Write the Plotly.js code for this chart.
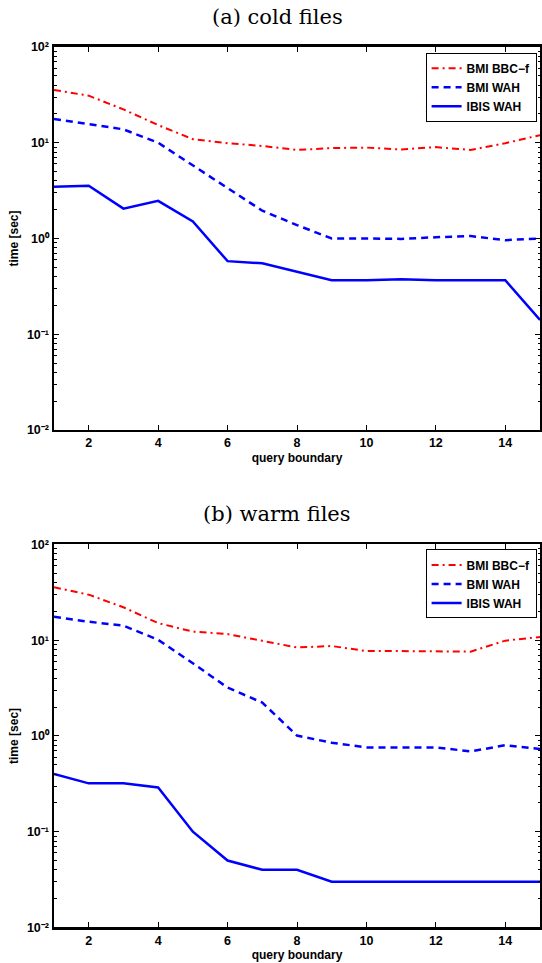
<!DOCTYPE html>
<html>
<head>
<meta charset="utf-8">
<script src="https://cdn.plot.ly/plotly-3.0.1.min.js"></script>
<style>
  html, body { margin: 0; padding: 0; background: #fff; }
  #chart { width: 542px; height: 963px; }
</style>
</head>
<body>
<div id="chart"></div>
<script>
// ---- data ----
const queryBoundary = [1, 2, 3, 4, 5, 6, 7, 8, 9, 10, 11, 12, 13, 14, 15];

const coldBmiBbcF = [35.6, 31, 22.3, 15.3, 10.9, 9.9, 9.25, 8.4, 8.8, 8.9, 8.5, 9.0, 8.4, 9.9, 12.0];
const coldBmiWah  = [17.7, 15.7, 13.8, 10.0, 5.76, 3.34, 1.95, 1.38, 1.0, 1.0, 0.99, 1.03, 1.06, 0.96, 1.0];
const coldIbisWah = [3.47, 3.56, 2.05, 2.47, 1.51, 0.58, 0.55, 0.45, 0.366, 0.366, 0.375, 0.366, 0.366, 0.366, 0.141];

const warmBmiBbcF = [35.7, 29.9, 22.1, 15.1, 12.3, 11.6, 9.86, 8.4, 8.7, 7.7, 7.7, 7.6, 7.6, 9.9, 10.8];
const warmBmiWah  = [17.6, 15.6, 14.2, 10.1, 5.75, 3.2, 2.23, 1.01, 0.85, 0.76, 0.76, 0.76, 0.69, 0.80, 0.73];
const warmIbisWah = [0.40, 0.32, 0.32, 0.29, 0.10, 0.05, 0.04, 0.04, 0.03, 0.03, 0.03, 0.03, 0.03, 0.03, 0.03];

const seriesNames = ['BMI BBC\u2212f', 'BMI WAH', 'IBIS WAH'];
const panelTitles = ['(a) cold files', '(b) warm files'];
const yTickVals = [0.01, 0.1, 1, 10, 100];
const yTickText = ['10\u207B\u00B2', '10\u207B\u00B9', '10\u2070', '10\u00B9', '10\u00B2'];
const xTickVals = [2, 4, 6, 8, 10, 12, 14];
const xAxisTitle = 'query boundary';
const yAxisTitle = 'time [sec]';

// ---- styling ----
const sansBold = { family: 'Liberation Sans, Arial, Helvetica, sans-serif', size: 12, color: '#000', weight: 'bold' };
const tickBold = { family: 'Liberation Sans, Arial, Helvetica, sans-serif', size: 12.5, color: '#000', weight: 'bold' };
const styles = [
  { color: '#ff0000', width: 2, dash: '7px,4px,2px,4px' },
  { color: '#0000ff', width: 2.5, dash: '7px,5px' },
  { color: '#0000ff', width: 2.5, dash: 'solid' }
];

const minorVals = [];
for (let k = -2; k < 2; k++) {
  for (let m = 2; m <= 9; m++) minorVals.push(m * Math.pow(10, k));
}

function mkTraces(arrs, xa, ya, legendId) {
  return arrs.map((ys, i) => ({
    type: 'scatter', mode: 'lines',
    x: queryBoundary, y: ys,
    name: seriesNames[i],
    xaxis: xa, yaxis: ya,
    legend: legendId,
    line: styles[i]
  }));
}

const data = [].concat(
  mkTraces([coldBmiBbcF, coldBmiWah, coldIbisWah], 'x', 'y', 'legend'),
  mkTraces([warmBmiBbcF, warmBmiWah, warmIbisWah], 'x2', 'y2', 'legend2')
);

function xAxis(anchor) {
  return {
    anchor: anchor, domain: [0, 1], range: [1, 15],
    tickmode: 'array', tickvals: xTickVals,
    ticks: 'inside', ticklen: 5, tickwidth: 1, tickcolor: '#000',
    showline: true, linewidth: 2.5, linecolor: '#000', mirror: 'allticks',
    showgrid: false, zeroline: false, automargin: false,
    tickfont: tickBold,
    title: { text: xAxisTitle, font: sansBold, standoff: 4 }
  };
}
function yAxis(anchor, dom) {
  return {
    anchor: anchor, domain: dom, type: 'log', range: [-2, 2],
    tickmode: 'array', tickvals: yTickVals, ticktext: yTickText,
    ticks: 'inside', ticklen: 5, tickwidth: 1, tickcolor: '#000',
    minor: { tickmode: 'array', tickvals: minorVals, ticks: 'inside', ticklen: 2.5, tickwidth: 1, tickcolor: '#000', showgrid: false },
    showline: true, linewidth: 2.5, linecolor: '#000', mirror: 'allticks',
    showgrid: false, zeroline: false, automargin: false,
    tickfont: tickBold,
    title: { text: yAxisTitle, font: sansBold, standoff: 6 }
  };
}

const legendBase = {
  xref: 'paper', yref: 'paper', xanchor: 'right', yanchor: 'top',
  bgcolor: '#fff', bordercolor: '#000', borderwidth: 1,
  font: sansBold, itemwidth: 30, tracegroupgap: 0
};

const titleFont = { family: 'DejaVu Serif, Liberation Serif, serif', size: 21, color: '#000' };

const layout = {
  width: 542, height: 963,
  margin: { l: 54, r: 2, t: 0, b: 0, autoexpand: false },
  paper_bgcolor: '#fff', plot_bgcolor: '#fff',
  showlegend: true,
  xaxis: xAxis('y'),
  yaxis: yAxis('x', [0.5535, 0.9512]),
  xaxis2: xAxis('y2'),
  yaxis2: yAxis('x2', [0.0369, 0.4346]),
  legend: Object.assign({}, legendBase, { x: 0.993, y: 0.9453 }),
  legend2: Object.assign({}, legendBase, { x: 0.993, y: 0.4294 }),
  annotations: [
    { text: panelTitles[0], xref: 'paper', yref: 'paper', x: 0.459, y: 1 - 17 / 963, xanchor: 'center', yanchor: 'middle', showarrow: false, font: titleFont },
    { text: panelTitles[1], xref: 'paper', yref: 'paper', x: 0.459, y: 1 - 514 / 963, xanchor: 'center', yanchor: 'middle', showarrow: false, font: titleFont }
  ]
};

Plotly.newPlot('chart', data, layout, { displayModeBar: false, staticPlot: true });
</script>
</body>
</html>
